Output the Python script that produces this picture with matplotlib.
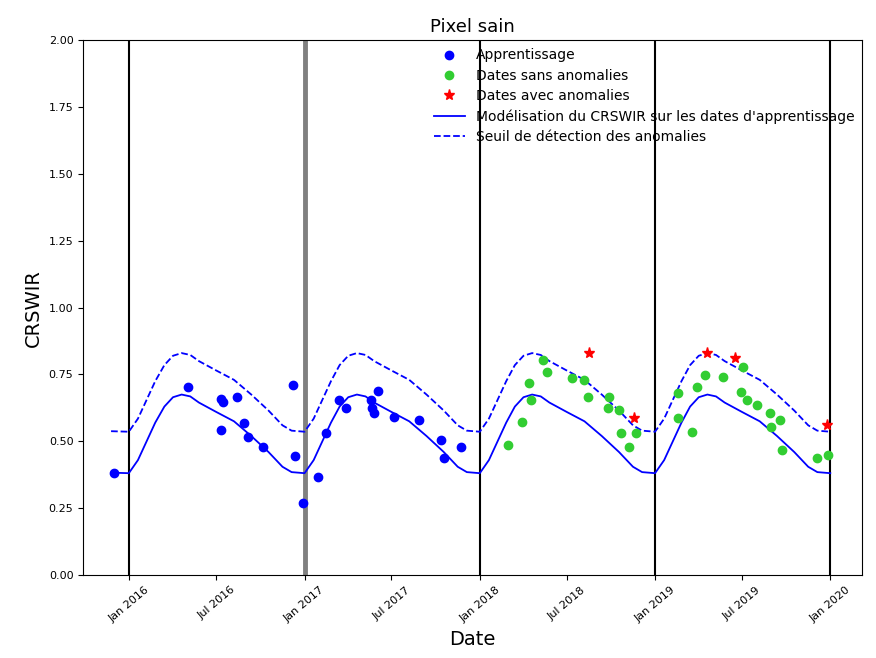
import matplotlib
matplotlib.use("Agg")
import matplotlib.pyplot as plt
import matplotlib.dates as mdates
import numpy as np
import pandas as pd

# points
appr_dates = ["2015-12-01", "2016-05-04", "2016-07-10", "2016-07-16", "2016-08-14", "2016-07-10",
              "2016-08-27", "2016-09-06", "2016-10-06", "2016-12-07", "2016-12-13", "2016-12-28",
              "2017-01-30", "2017-02-15", "2017-03-14", "2017-03-29", "2017-05-20", "2017-05-22",
              "2017-05-26", "2017-06-03", "2017-07-07", "2017-08-28", "2017-10-13", "2017-10-19",
              "2017-11-23"]
appr_vals = [0.381, 0.703, 0.660, 0.647, 0.666, 0.542,
             0.568, 0.516, 0.479, 0.710, 0.445, 0.269,
             0.366, 0.530, 0.654, 0.624, 0.654, 0.624,
             0.605, 0.690, 0.590, 0.579, 0.505, 0.437,
             0.479]

ok_dates = ["2018-03-01", "2018-03-29", "2018-04-14", "2018-04-18", "2018-05-13", "2018-05-20",
            "2018-07-11", "2018-08-07", "2018-08-15", "2018-09-28", "2018-09-26", "2018-10-17",
            "2018-10-23", "2018-11-07", "2018-11-23",
            "2019-02-17", "2019-02-18", "2019-03-20", "2019-03-29", "2019-04-14", "2019-05-22",
            "2019-06-30", "2019-07-11", "2019-08-01", "2019-08-28", "2019-09-18", "2019-08-30",
            "2019-09-22", "2019-12-04", "2019-12-27", "2019-07-03"]
ok_vals = [0.486, 0.572, 0.718, 0.654, 0.804, 0.759,
           0.736, 0.729, 0.666, 0.666, 0.624, 0.617,
           0.530, 0.479, 0.530,
           0.680, 0.587, 0.535, 0.703, 0.748, 0.740,
           0.684, 0.654, 0.636, 0.605, 0.579, 0.553,
           0.467, 0.437, 0.449, 0.778]

anom_dates = ["2018-08-17", "2018-11-19", "2019-04-20", "2019-06-16", "2019-12-25"]
anom_vals = [0.830, 0.587, 0.830, 0.810, 0.560]

# modele annuel (jour-mois -> valeur), repete chaque annee
model_md = ["01-01", "01-20", "02-07", "02-25", "03-15", "04-02", "04-20", "05-08",
            "05-26", "07-01", "08-07", "09-12", "10-18", "11-16", "12-05"]
model_vals = [0.381, 0.430, 0.500, 0.570, 0.630, 0.665, 0.675, 0.668,
              0.645, 0.610, 0.575, 0.520, 0.460, 0.405, 0.385]
model_years = [2016, 2017, 2018, 2019]
seuil_offset = 0.155

curve_dates = [pd.Timestamp("2015-11-25")]
curve_vals = [0.383]
for y in model_years:
    for md, v in zip(model_md, model_vals):
        curve_dates.append(pd.Timestamp(f"{y}-{md}"))
        curve_vals.append(v)
curve_dates.append(pd.Timestamp("2020-01-01"))
curve_vals.append(model_vals[0])
curve_vals = np.array(curve_vals)

fig = plt.figure(figsize=(8.76, 6.58), dpi=100)
ax = fig.add_axes([0.095, 0.126, 0.889, 0.813])

for y in range(2016, 2021):
    if y == 2017:
        ax.axvline(pd.Timestamp(f"{y}-01-01"), color="gray", lw=3.5, zorder=1)
    else:
        ax.axvline(pd.Timestamp(f"{y}-01-01"), color="black", lw=1.5, zorder=1)

ax.plot(pd.to_datetime(appr_dates), appr_vals, "o", color="blue", ms=6, label="Apprentissage", zorder=3)
ax.plot(pd.to_datetime(ok_dates), ok_vals, "o", color="limegreen", ms=6, label="Dates sans anomalies", zorder=3)
ax.plot(pd.to_datetime(anom_dates), anom_vals, "*", color="red", ms=8, label="Dates avec anomalies", zorder=3)
ax.plot(curve_dates, curve_vals, "-", color="blue", lw=1.3,
        label="Modélisation du CRSWIR sur les dates d'apprentissage", zorder=2)
ax.plot(curve_dates, curve_vals + seuil_offset, "--", color="blue", lw=1.3,
        label="Seuil de détection des anomalies", zorder=2)

ax.set_ylim(0, 2)
ax.set_yticks(np.arange(0, 2.01, 0.25))
ax.set_yticklabels([f"{v:.2f}" for v in np.arange(0, 2.01, 0.25)], fontsize=8)
ax.set_xlim(pd.Timestamp("2015-09-28"), pd.Timestamp("2020-03-07"))
ax.xaxis.set_major_locator(mdates.MonthLocator(bymonth=[1, 7]))
ax.xaxis.set_major_formatter(mdates.DateFormatter("%b %Y"))
plt.setp(ax.get_xticklabels(), rotation=40, ha="center", fontsize=8)

ax.set_xlabel("Date", fontsize=14)
ax.set_ylabel("CRSWIR", fontsize=14)
ax.set_title("Pixel sain", fontsize=13)
ax.legend(loc="upper left", bbox_to_anchor=(0.44, 1.0), frameon=False, fontsize=10,
          handlelength=2.2, labelspacing=0.45, borderaxespad=0.2)

fig.savefig("out.png", dpi=100)
